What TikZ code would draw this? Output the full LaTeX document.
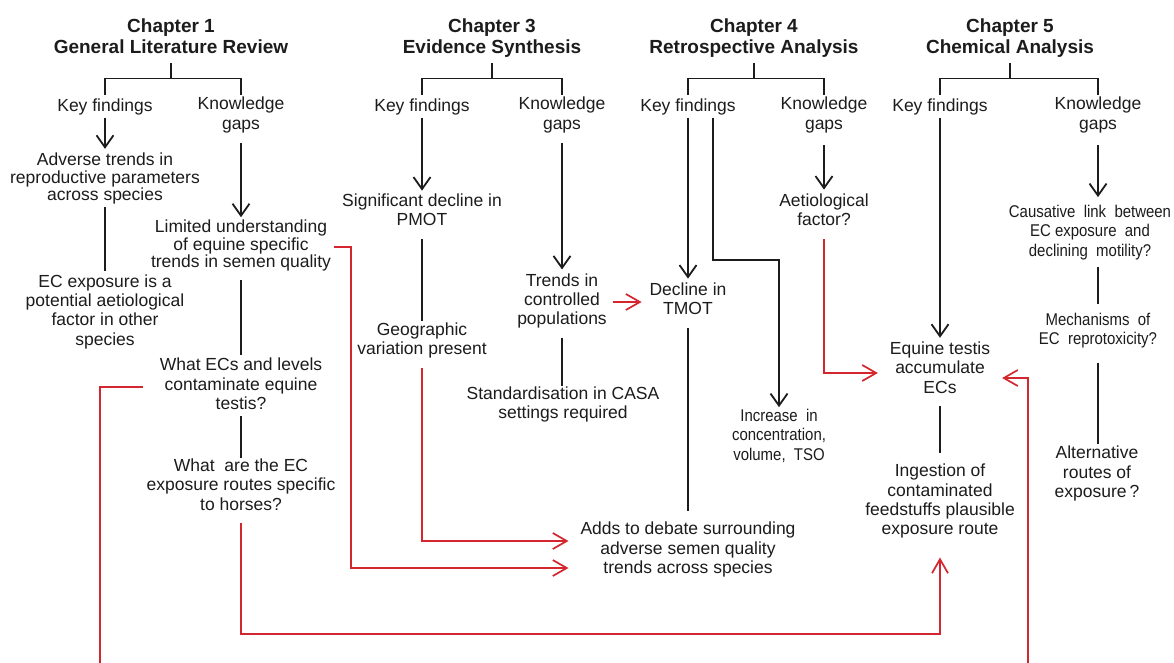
\documentclass[tikz,border=0pt]{standalone}
\usepackage{fontspec}
\setmainfont{Liberation Sans}
\newfontfamily\narrowsans{Liberation Sans}[FakeStretch=0.88]
\usetikzlibrary{arrows.meta}
\definecolor{ink}{RGB}{28,28,28}
\definecolor{linkred}{RGB}{212,38,46}

\tikzset{
  txt/.style={inner sep=0pt, outer sep=0pt, align=center, text=ink,
    font=\fontsize{17.5}{19.3}\selectfont,
    execute at begin node=\strut, execute at end node=\strut},
  tight/.style={font=\fontsize{17.5}{17.5}\selectfont},
  narrow/.style={font=\narrowsans\fontsize{17}{19.5}\selectfont},
  head/.style={txt, font=\bfseries\fontsize{19}{21}\selectfont},
  blk/.style={draw=ink, line width=1.8pt},
  blkarr/.style={blk, -{Straight Barb[length=12pt,width=17pt]}},
  redarr/.style={draw=linkred, line width=1.7pt, -{Straight Barb[length=14pt,width=16pt]}},
}

\begin{document}
\begin{tikzpicture}[x=1pt,y=-1pt]
\useasboundingbox (0,0) rectangle (1174,662);
\fill[white] (0,0) rectangle (1174,662);
\clip (0,0) rectangle (1174,662);

% chapter headings
\node[head] (ch1) at (171,38.8) {Chapter 1\\General Literature Review};
\node[head] (ch3) at (492,38.8) {Chapter 3\\Evidence Synthesis};
\node[head] (ch4) at (754,38.8) {Chapter 4\\Retrospective Analysis};
\node[head] (ch5) at (1010,38.8) {Chapter 5\\Chemical Analysis};

% branch labels
\node[txt] (kf1) at (105,108) {Key findings};
\node[txt] (kg1) at (241,116) {Knowledge\\gaps};
\node[txt] (kf3) at (422,108) {Key findings};
\node[txt] (kg3) at (562,116) {Knowledge\\gaps};
\node[txt] (kf4) at (688,108) {Key findings};
\node[txt] (kg4) at (824,116) {Knowledge\\gaps};
\node[txt] (kf5) at (940,108) {Key findings};
\node[txt] (kg5) at (1098,116) {Knowledge\\gaps};

% chapter 1
\node[txt,tight] (adv) at (105,179.3) {Adverse trends in\\reproductive parameters\\across species};
\node[txt] (ecx) at (105,312.75) {EC exposure is a\\potential aetiological\\factor in other\\species};
\node[txt,tight] (lim) at (241,246.7) {Limited understanding\\of equine specific\\trends in semen quality};
\node[txt] (wec) at (241,386.7) {What ECs and levels\\contaminate equine\\testis?};
\node[txt] (wat) at (241,487.3) {What\ \ are the EC\\exposure routes specific\\to horses?};

% chapter 3
\node[txt] (sig) at (422,212.5) {Significant decline in\\PMOT};
\node[txt] (geo) at (422,341.5) {Geographic\\variation present};
\node[txt] (tr) at (562,302) {Trends in\\controlled\\populations};
\node[txt] (std) at (563,405.5) {Standardisation in CASA\\settings required};

% chapter 4
\node[txt] (dec) at (688,301.5) {Decline in\\TMOT};
\node[txt] (adds) at (688,550.7) {Adds to debate surrounding\\adverse semen quality\\trends across species};
\node[txt,narrow] (inc) at (779,437.7) {Increase\ \ in\\concentration,\\volume,\ \ TSO};
\node[txt] (aet) at (824,212.5) {Aetiological\\factor?};

% chapter 5
\node[txt] (eq) at (940,370.3) {Equine testis\\accumulate\\ECs};
\node[txt] (ing) at (940,502.3) {Ingestion of\\contaminated\\feedstuffs plausible\\exposure route};
\node[txt,narrow] (cau) at (1090,233.7) {Causative\ \ link\ \ between\\EC exposure\ \ and\\declining\ \ motility?};
\node[txt,narrow] (mech) at (1098,332) {Mechanisms\ \ of\\EC\ \ reprotoxicity?};
\node[txt] (alt) at (1097,474.7) {Alternative\\routes of\\exposure\,?};

% heading brackets
\draw[blk, shorten <=4pt] (ch1.south) -- ++(0,19.2) coordinate (j1);
\draw[blk, shorten >=3pt] (j1) -| (kf1.north);
\draw[blk, shorten >=2pt] (j1) -| (kg1.north);
\draw[blk, shorten <=4pt] (ch3.south) -- ++(0,19.2) coordinate (j3);
\draw[blk, shorten >=3pt] (j3) -| (kf3.north);
\draw[blk, shorten >=2pt] (j3) -| (kg3.north);
\draw[blk, shorten <=4pt] (ch4.south) -- ++(0,19.2) coordinate (j4);
\draw[blk, shorten >=3pt] (j4) -| (kf4.north);
\draw[blk, shorten >=2pt] (j4) -| (kg4.north);
\draw[blk, shorten <=4pt] (ch5.south) -- ++(0,19.2) coordinate (j5);
\draw[blk, shorten >=3pt] (j5) -| (kf5.north);
\draw[blk, shorten >=2pt] (j5) -| (kg5.north);

% chapter 1 links
\draw[blkarr, shorten >=4pt] (kf1.south) -- (adv.north);
\draw[blk, shorten <=1.5pt, shorten >=4pt] (adv.south) -- (ecx.north);
\draw[blkarr, shorten <=8pt, shorten >=3pt] (kg1.south) -- (lim.north);
\draw[blk, shorten <=7pt, shorten >=3pt] (lim.south) -- (wec.north);
\draw[blk, shorten <=1pt, shorten >=1pt] (wec.south) -- (wat.north);

% chapter 3 links
\draw[blkarr, shorten >=3pt] (kf3.south) -- (sig.north);
\draw[blk, shorten <=8pt, shorten >=2pt] (sig.south) -- (geo.north);
\draw[blkarr, shorten <=8pt, shorten >=4pt] (kg3.south) -- (tr.north);
\draw[blk, shorten <=7pt, shorten >=1pt] (tr.south) -- (tr.south |- std.north);

% chapter 4 links
\draw[blkarr, shorten >=4pt] (kf4.south) -- (dec.north);
\draw[blkarr, shorten >=2pt] ([xshift=25pt]kf4.south) -- ++(0,142) -| (inc.north);
\draw[blk, shorten <=8pt, shorten >=11pt] (dec.south) -- (adds.north);
\draw[blkarr, shorten <=10pt, shorten >=4pt] (kg4.south) -- (aet.north);

% chapter 5 links
\draw[blkarr, shorten >=4pt] (kf5.south) -- (eq.north);
\draw[blk, shorten <=7pt, shorten >=11pt] (eq.south) -- (ing.north);
\draw[blkarr, shorten <=10pt, shorten >=8pt] (kg5.south) -- (kg5.south |- cau.north);
\draw[blk, shorten <=5pt, shorten >=9pt] (mech.north |- cau.south) -- (mech.north);
\draw[blk, shorten <=12pt, shorten >=2pt] (mech.south) -- (mech.south |- alt.north);

% cross-chapter links
\draw[redarr, shorten <=6pt, shorten >=8pt] (tr.east) -- (tr.east -| dec.west);
\draw[redarr, shorten <=8pt, shorten >=12pt] (geo.south) |- ([yshift=9.7pt]adds.west);
\draw[redarr, shorten <=3pt, shorten >=12pt] (lim.east) -- ++(20,0) |- ([yshift=-17.3pt]adds.west);
\draw[redarr, shorten <=7pt, shorten >=17pt] (wat.south) -- ++(0,118) -| (ing.south);
\draw[redarr, shorten <=8pt, shorten >=12pt] (aet.south) |- ([yshift=-2.7pt]eq.west);
\draw[redarr, shorten <=17pt, shorten >=12pt] (wec.west) -- ++(-60,0) -- ++(0,330)
  -| ([xshift=38pt,yshift=-7.7pt]eq.east) -- ([yshift=-7.7pt]eq.east);
\end{tikzpicture}
\end{document}
